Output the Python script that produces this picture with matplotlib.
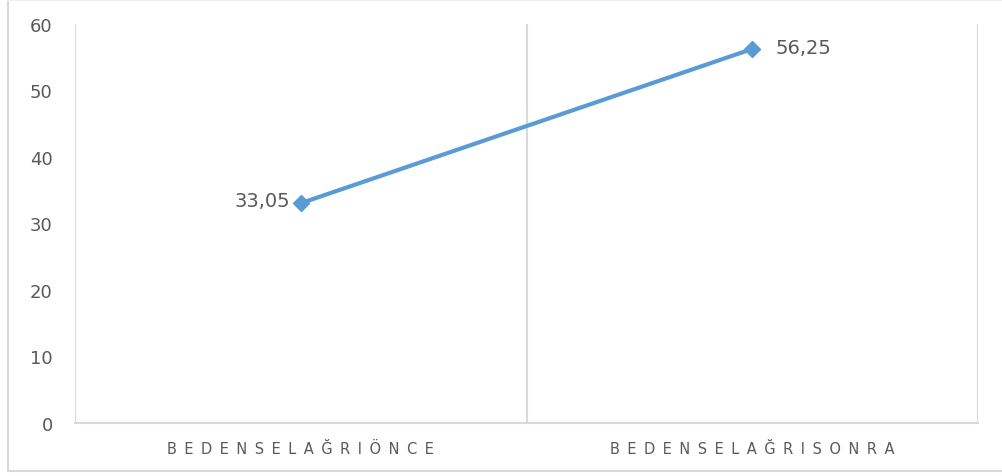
import matplotlib.pyplot as plt
from matplotlib.lines import Line2D

# values
categories = ['BEDENSEL AĞRI ÖNCE', 'BEDENSEL AĞRI SONRA']
scores = [33.05, 56.25]
score_labels = ['33,05', '56,25']
y_ticks = [0, 10, 20, 30, 40, 50, 60]

W, H = 1003, 477
fig = plt.figure(figsize=(W / 100, H / 100), dpi=100)
ax = fig.add_axes([75 / W, 1 - 424 / H, (978 - 75) / W, (424 - 25) / H])

grid_c = '#d9d9d9'
text_c = '#595959'
blue = '#5b9bd5'

x = list(range(len(categories)))
ax.plot(x, scores, color=blue, lw=3, marker='D', ms=8, zorder=3, solid_capstyle='round')

ax.set_xlim(-0.5, len(categories) - 0.5)
ax.set_ylim(0, 60)
ax.set_yticks(y_ticks)
ax.set_yticklabels([str(t) for t in y_ticks], color=text_c, fontsize=13)

# spaced-out category labels
spaced = [' \u2009'.join(c.replace(' ', '')) for c in categories]
ax.set_xticks(x)
ax.set_xticklabels(spaced, color=text_c, fontsize=10.5)
ax.tick_params(axis='both', length=0)
ax.tick_params(axis='y', pad=16)
ax.tick_params(axis='x', pad=13)

# vertical gridlines on category boundaries
for b in [-0.5, 0.5, 1.5]:
    ax.axvline(b, color=grid_c, lw=1.5, zorder=1)

for s in ['top', 'right', 'left']:
    ax.spines[s].set_visible(False)
ax.spines['bottom'].set_color(grid_c)
ax.spines['bottom'].set_linewidth(1.5)

# data labels
ax.annotate(score_labels[0], (x[0], scores[0]), xytext=(-8, 2), textcoords='offset points',
            ha='right', va='center', color=text_c, fontsize=14)
ax.annotate(score_labels[1], (x[1], scores[1]), xytext=(17, 1), textcoords='offset points',
            ha='left', va='center', color=text_c, fontsize=14)

# outer chart frame
frame_c = '#d9d9d9'
fig.add_artist(Line2D([8 / W, 8 / W], [1 - 472 / H, 1.0], color=frame_c, lw=1.5, transform=fig.transFigure))
fig.add_artist(Line2D([8 / W, 1.0], [1 - 472 / H, 1 - 472 / H], color=frame_c, lw=1.5, transform=fig.transFigure))
fig.add_artist(Line2D([8 / W, 1.0], [1 - 0.5 / H, 1 - 0.5 / H], color='#efefef', lw=1.5, transform=fig.transFigure))

fig.savefig('out.png', dpi=100)
